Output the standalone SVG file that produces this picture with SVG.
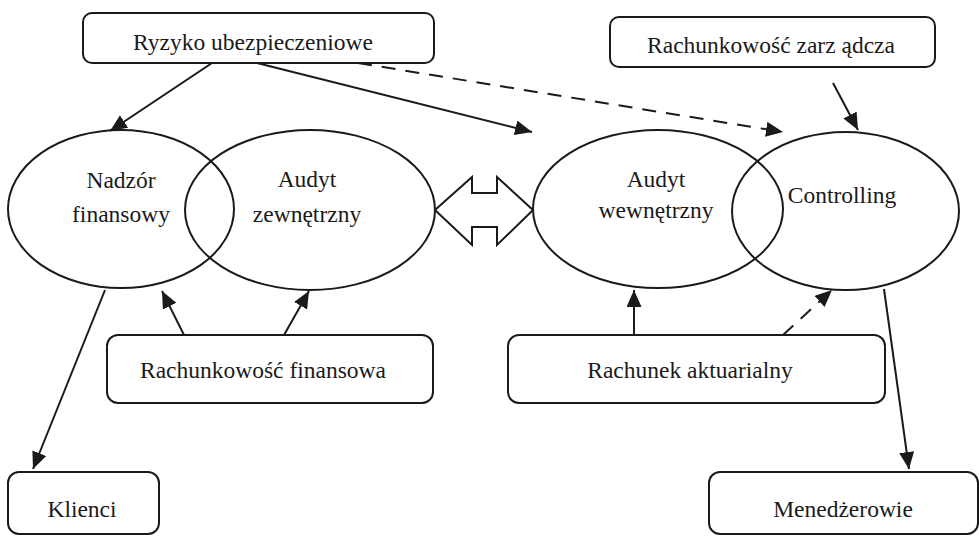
<svg xmlns="http://www.w3.org/2000/svg" width="979" height="536" viewBox="0 0 979 536">
<defs>
<style>
.box{fill:#fff;stroke:#1a1a1a;stroke-width:2}
.ell{fill:none;stroke:#1a1a1a;stroke-width:2}
.t{font-family:"Liberation Serif","Times New Roman",serif;font-size:23.5px;fill:#1a1a1a;text-anchor:middle}
.c{fill:none;stroke:#1a1a1a;stroke-width:2;marker-end:url(#ah)}
.d{stroke-dasharray:14 10}
</style>
<marker id="ah" markerUnits="userSpaceOnUse" markerWidth="18" markerHeight="16" refX="17" refY="7.5" orient="auto">
<path d="M0,0 L17,7.5 L0,15 z" fill="#1a1a1a"/>
</marker>
</defs>
<rect width="979" height="536" fill="#fff"/>
<g id="ryzyko"><rect class="box" x="83" y="13" width="351" height="50" rx="9"/><text class="t" x="253" y="50">Ryzyko ubezpieczeniowe</text></g>
<g id="zarzadcza"><rect class="box" x="610" y="17" width="325" height="50" rx="9"/><text class="t" x="771" y="53">Rachunkowość zarz ądcza</text></g>
<g id="nadzor"><ellipse class="ell" cx="121" cy="209" rx="113" ry="79"/><text class="t" x="121" y="188">Nadzór</text><text class="t" x="121" y="222">finansowy</text></g>
<g id="audyt-zew"><ellipse class="ell" cx="310" cy="210" rx="125" ry="80"/><text class="t" x="307" y="187">Audyt</text><text class="t" x="307" y="222">zewnętrzny</text></g>
<g id="audyt-wew"><ellipse class="ell" cx="658" cy="209" rx="125" ry="79"/><text class="t" x="656" y="187">Audyt</text><text class="t" x="656" y="218">wewnętrzny</text></g>
<g id="controlling"><ellipse class="ell" cx="845.5" cy="211" rx="113.5" ry="79"/><text class="t" x="842" y="203">Controlling</text></g>
<g id="rach-fin"><rect class="box" x="107" y="335" width="326" height="68" rx="11"/><text class="t" x="263" y="378">Rachunkowość finansowa</text></g>
<g id="rach-akt"><rect class="box" x="508" y="335" width="377" height="68" rx="11"/><text class="t" x="690" y="378">Rachunek aktuarialny</text></g>
<g id="klienci"><rect class="box" x="8" y="472" width="151" height="62" rx="11"/><text class="t" x="82" y="517">Klienci</text></g>
<g id="menedzerowie"><rect class="box" x="709" y="472" width="269" height="62" rx="11"/><text class="t" x="843" y="517">Menedżerowie</text></g>
<g id="connectors">
<path class="ell" d="M435,210 L472,177 L472,193 L497,193 L497,177 L533,210 L497,245 L497,227 L472,227 L472,245 Z" fill="#fff"/>
<line class="c" x1="212" y1="63" x2="110" y2="131"/>
<line class="c" x1="257" y1="63" x2="532" y2="132"/>
<line class="c d" x1="358" y1="63" x2="783" y2="132"/>
<line class="c" x1="833" y1="83" x2="858" y2="130"/>
<line class="c" x1="184" y1="335" x2="162" y2="291"/>
<line class="c" x1="284" y1="335" x2="309" y2="291"/>
<line class="c" x1="105" y1="290" x2="33" y2="469"/>
<line class="c" x1="634" y1="335" x2="634" y2="290"/>
<line class="c d" x1="783" y1="335" x2="832" y2="290"/>
<line class="c" x1="884" y1="289" x2="909" y2="469"/>
</g>
</svg>
